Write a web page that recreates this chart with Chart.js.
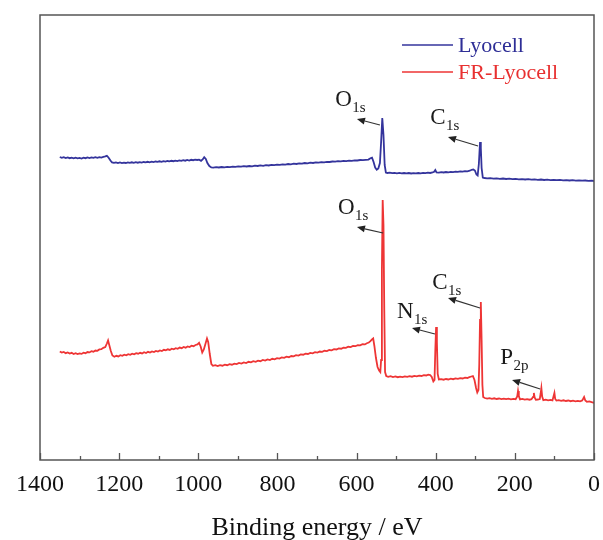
<!DOCTYPE html>
<html>
<head>
<meta charset="utf-8">
<script src="https://cdn.jsdelivr.net/npm/chart.js@4.4.1/dist/chart.umd.min.js"></script>
<style>
  html, body { margin: 0; padding: 0; background: #fff; }
  #wrap { width: 603px; height: 540px; position: relative; }
</style>
</head>
<body>
<div id="wrap"><canvas id="c" width="603" height="540"></canvas></div>
<script>
// ---- DATA (binding energy in eV, intensity in arbitrary units) ----
const seriesNames = ["Lyocell", "FR-Lyocell"];

const lyocellEnergy = [1350,1345,1340,1335,1330,1325,1320,1315,1310,1305,1300,1295,1290,1285,1280,1275,1270,1265,1260,1255,1250,1245,1240,1235,1231,1227,1222,1218,1213,1208,1203,1198,1193,1188,1183,1178,1173,1168,1163,1158,1153,1148,1143,1138,1133,1128,1123,1118,1113,1108,1103,1098,1093,1088,1083,1078,1073,1068,1063,1058,1053,1048,1043,1038,1033,1028,1023,1018,1013,1008,1003,998,993,989,985,981,977,972,967,
962,955,948,941,934,927,920,913,906,899,892,885,878,871,864,857,850,843,836,829,822,815,808,801,794,787,780,773,766,759,752,745,738,731,724,717,710,703,696,689,682,675,668,661,654,647,640,633,626,619,612,605,598,591,584,577,570,565,561,557,553,549,545,541,538,535,532,529,526,522,516,510,504,498,492,486,480,474,468,462,456,450,444,438,432,426,420,414,408,404,401,398,392,386,380,374,368,362,356,350,344,338,332,326,320,314,309,305,301,297,294,291,288,286,284,281,277,270,262,254,246,238,230,222,214,206,198,190,182,174,166,158,150,142,134,126,118,110,102,94,86,78,70,62,54,46,38,30,22,14,6,0];
const lyocellIntensity = [303,302.2,302.8,301.9,302.6,301.8,302.3,301.6,302.4,301.7,302.1,301.5,302.3,301.8,302.5,301.9,302.6,302.1,302.8,302.2,302.9,302.4,303.1,303.6,304.2,302.5,299.5,297.6,297.1,297.6,297.0,297.5,296.9,297.4,297.0,297.6,297.1,297.7,297.2,297.8,297.3,297.9,297.4,298.0,297.6,298.2,297.7,298.4,297.9,298.5,298.1,298.7,298.2,298.9,298.4,299.0,298.6,299.2,298.8,299.4,298.9,299.6,299.1,299.8,299.3,300.0,299.5,300.2,299.8,300.4,300.0,300.3,299.2,300.5,302.8,301.0,297.0,294.0,292.6,
292.4,292.9,292.5,293.0,292.7,293.2,292.9,293.4,293.1,293.6,293.3,293.8,293.5,294.0,293.7,294.3,294.0,294.6,294.2,294.8,294.5,295.1,294.8,295.4,295.1,295.7,295.4,296.0,295.7,296.3,296.0,296.6,296.4,297.0,296.7,297.3,297.0,297.6,297.3,297.9,297.7,298.2,298.0,298.5,298.3,298.8,298.6,299.1,298.9,299.4,299.2,299.7,299.5,300.0,299.8,300.2,300.4,301.8,302.3,298.0,292.5,290.3,291.5,297,318,342,325,295,287.5,287.0,287.4,286.8,287.2,286.7,287.1,286.6,287.0,286.6,287.0,286.5,286.9,286.6,287.0,286.7,287.2,286.8,287.3,287.0,287.5,288.2,290.0,287.6,287.4,287.9,287.5,288.0,287.7,288.2,287.9,288.4,288.1,288.6,288.4,288.9,288.7,289.3,290.2,290.6,289.5,285.5,284.5,296,318,312,292,282.5,282.0,281.6,281.9,281.4,281.7,281.2,281.5,281.0,281.3,280.8,281.1,280.6,280.9,280.5,280.8,280.3,280.6,280.2,280.5,280.0,280.3,279.9,280.2,279.8,280.1,279.6,279.9,279.5,279.8,279.4,279.7,279.3,279.5,279.1,279.3,279.0];

const frEnergy = [1350,1345,1340,1335,1330,1325,1320,1315,1310,1305,1300,1295,1290,1285,1280,1275,1270,1265,1260,1255,1250,1245,1240,1235,1231,1228,1225,1221,1217,1212,1207,1202,1197,1192,1187,1182,1177,1172,1167,1162,1157,1152,1147,1142,1137,1132,1127,1122,1117,1112,1107,1102,1097,1092,1087,1082,1077,1072,1067,1062,1057,1052,1047,1042,1037,1032,1027,1022,1017,1012,1007,1002,998,994,990,986,982,978,975,971,967,963,
957,951,945,939,933,927,921,915,909,903,897,891,885,879,873,867,861,855,849,843,837,831,825,819,813,807,801,795,789,783,777,771,765,759,753,747,741,735,729,723,717,711,705,699,693,687,681,675,669,663,657,651,645,639,633,627,621,615,609,603,597,591,585,579,574,569,565,561,558,555,551,547,543,540,538,536,534,532,530,528,525,520,514,508,502,496,490,484,478,472,466,460,454,448,442,436,430,424,419,414,410,406,403,401,399,397,395,392,386,380,374,368,362,356,350,344,338,332,326,320,315,310,306,302,298,295,292,290,288,286,284,282,280,276,270,264,258,252,246,240,234,228,222,216,210,204,198,194,192,190,187,181,175,169,163,158,154,152,150,147,142,137,135,133,131,128,122,116,110,105,102,100,98,95,89,83,77,71,65,59,53,47,41,35,30,27,25,22,18,12,6,0];
const frIntensity = [108.5,107.4,108.0,106.8,107.6,106.5,107.2,106.0,106.8,105.9,106.6,106.1,107.3,106.8,108.0,107.6,108.8,108.3,109.5,109.2,110.6,110.8,112.2,113.0,116.5,119.5,115.0,109.0,104.5,103.2,104.2,103.6,104.8,104.2,105.3,104.7,105.8,105.2,106.3,105.7,106.8,106.3,107.2,106.6,107.8,107.0,108.2,107.5,108.6,108.0,109.1,108.5,109.6,109.0,110.2,109.6,110.7,110.1,111.3,110.7,111.8,111.2,112.4,111.8,113.0,112.3,113.6,113.0,114.3,113.8,115.0,115.6,117.2,113.5,107.5,110.5,116.0,121.5,118.0,106.0,96.0,94.2,
94.8,93.9,94.9,94.3,95.4,94.8,95.9,95.3,96.4,95.9,97.0,96.4,97.6,97.0,98.2,97.6,98.8,98.2,99.4,98.8,100.0,99.4,100.6,100.0,101.2,100.7,101.9,101.4,102.6,102.1,103.3,102.8,104.0,103.6,104.8,104.4,105.6,105.3,106.4,106.0,107.1,106.7,107.8,107.4,108.5,108.1,109.2,108.9,110.0,109.7,110.8,110.5,111.6,111.3,112.4,112.1,113.2,112.9,114.0,113.8,114.9,114.7,115.8,115.6,116.8,117.5,118.8,120.5,121.5,114.0,102.0,93.0,89.5,88.0,100,190,260,235,150,88,84.0,83.2,83.8,83.0,83.6,82.8,83.4,82.9,83.6,83.1,83.8,83.3,84.1,83.6,84.4,84.0,84.9,84.5,85.3,85.0,83.0,78.5,80.0,110,133,118,86,80.5,80.9,80.3,81.0,80.5,81.3,80.8,81.6,81.1,81.9,81.5,82.3,82.0,82.8,83.5,84.0,80.0,72.0,67.5,70.0,95,140,158,120,75,63.0,62.0,61.4,61.9,61.2,61.7,61.0,61.5,60.9,61.4,60.8,61.3,60.7,61.2,60.8,63.5,69.0,64.0,60.6,61.1,60.4,60.9,60.3,60.8,63.0,67.0,62.5,60.2,60.5,61.0,66.0,72.0,63.5,59.8,60.3,59.7,60.1,59.6,64.0,67.0,61.0,59.4,59.9,59.2,59.7,59.0,59.5,58.8,59.3,58.7,59.2,58.6,59.5,61.5,63.0,59.5,58.2,58.6,57.8,57.2];

// x ticks (eV)
const xTickValues = [1400,1200,1000,800,600,400,200,0];
const xMinorTicks = [1300,1100,900,700,500,300,100];

// Peak annotations: label main text, subscript, label position, arrow tail and head (eV, intensity)
const annotMain  = ["O","C","O","N","C","P"];
const annotSub   = ["1s","1s","1s","1s","1s","2p"];
const annotLabelE = [654,414,647,498,409,237];
const annotLabelV = [360,342,252,148,177,102];
const annotTailE = [541,293,533,402,288,136];
const annotTailV = [335,314,227,126,152,71];
const annotHeadE = [599,369,599,460,369,207];
const annotHeadV = [341,323,233,132,162,80];

const colors = ["#34349c", "#ee3535"];
const legendTextColors = ["#2e2e96", "#e83030"];

const toXY = (xs, ys) => xs.map((x, i) => ({x: x, y: ys[i]}));

const SERIF = "'Liberation Serif', 'Times New Roman', serif";

const decorPlugin = {
  id: 'decor',
  afterDatasetsDraw(chart) {
    const ctx = chart.ctx;
    const a = chart.chartArea;
    const xs = chart.scales.x, ys = chart.scales.y;
    ctx.save();
    // frame
    ctx.strokeStyle = '#555';
    ctx.lineWidth = 1.5;
    ctx.strokeRect(a.left, a.top, a.right - a.left, a.bottom - a.top);
    // inward ticks
    ctx.lineWidth = 1.3;
    ctx.beginPath();
    xTickValues.forEach(v => {
      const px = Math.round(xs.getPixelForValue(v)) + 0.5;
      ctx.moveTo(px, a.bottom); ctx.lineTo(px, a.bottom - 7);
    });
    xMinorTicks.forEach(v => {
      const px = Math.round(xs.getPixelForValue(v)) + 0.5;
      ctx.moveTo(px, a.bottom); ctx.lineTo(px, a.bottom - 4);
    });
    ctx.stroke();

    // annotations
    for (let i = 0; i < annotMain.length; i++) {
      const tx = xs.getPixelForValue(annotTailE[i]), ty = ys.getPixelForValue(annotTailV[i]);
      const hx = xs.getPixelForValue(annotHeadE[i]), hy = ys.getPixelForValue(annotHeadV[i]);
      ctx.strokeStyle = '#333';
      ctx.fillStyle = '#222';
      ctx.lineWidth = 1.2;
      const ang = Math.atan2(hy - ty, hx - tx);
      const L = 8, W = 3.5;
      const bx = hx - L * Math.cos(ang), by = hy - L * Math.sin(ang);
      ctx.beginPath(); ctx.moveTo(tx, ty); ctx.lineTo(bx, by); ctx.stroke();
      ctx.beginPath();
      ctx.moveTo(hx, hy);
      ctx.lineTo(bx + W * Math.sin(ang), by - W * Math.cos(ang));
      ctx.lineTo(bx - W * Math.sin(ang), by + W * Math.cos(ang));
      ctx.closePath(); ctx.fill();

      const lx = xs.getPixelForValue(annotLabelE[i]), ly = ys.getPixelForValue(annotLabelV[i]);
      ctx.fillStyle = '#1a1a1a';
      ctx.textBaseline = 'middle';
      ctx.textAlign = 'left';
      ctx.font = '23px ' + SERIF;
      ctx.fillText(annotMain[i], lx, ly);
      const w = ctx.measureText(annotMain[i]).width;
      ctx.font = '15px ' + SERIF;
      ctx.fillText(annotSub[i], lx + w + 0.5, ly + 8);
    }

    // legend
    ctx.font = '22px ' + SERIF;
    ctx.textBaseline = 'middle';
    ctx.textAlign = 'left';
    const legY = [a.top + 30, a.top + 57];
    for (let i = 0; i < seriesNames.length; i++) {
      ctx.strokeStyle = colors[i];
      ctx.lineWidth = 1.6;
      ctx.beginPath(); ctx.moveTo(402, legY[i]); ctx.lineTo(453, legY[i]); ctx.stroke();
      ctx.fillStyle = legendTextColors[i];
      ctx.fillText(seriesNames[i], 458, legY[i] + 1);
    }
    ctx.restore();
  }
};

new Chart(document.getElementById('c'), {
  type: 'line',
  data: {
    datasets: [
      { label: seriesNames[0], data: toXY(lyocellEnergy, lyocellIntensity), borderColor: colors[0], borderWidth: 1.8, pointRadius: 0, tension: 0, fill: false },
      { label: seriesNames[1], data: toXY(frEnergy, frIntensity), borderColor: colors[1], borderWidth: 1.8, pointRadius: 0, tension: 0, fill: false }
    ]
  },
  options: {
    responsive: false,
    animation: false,
    events: [],
    layout: { padding: { left: 40, right: 9, top: 15, bottom: 0 } },
    plugins: { legend: { display: false }, tooltip: { enabled: false } },
    scales: {
      x: {
        type: 'linear', reverse: true, min: 0, max: 1400,
        afterBuildTicks: (scale) => { scale.ticks = xTickValues.map(v => ({ value: v })); },
        afterFit: (scale) => { scale.height = 80; scale.paddingLeft = 0; scale.paddingRight = 0; },
        grid: { display: false, drawTicks: false },
        border: { display: false },
        ticks: { color: '#111', font: { family: SERIF, size: 24 }, padding: 10, maxRotation: 0, autoSkip: false,
                 callback: (v) => String(v) },
        title: { display: true, text: 'Binding energy / eV', color: '#111', font: { family: SERIF, size: 26 }, padding: { top: 0, bottom: -4 } }
      },
      y: { display: false, min: 0, max: 445 }
    }
  },
  plugins: [decorPlugin]
});
</script>
</body>
</html>
